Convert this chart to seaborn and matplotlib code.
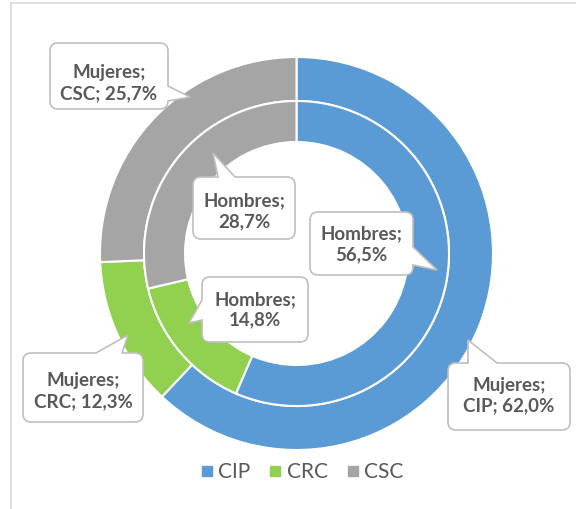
import matplotlib
matplotlib.use('Agg')
import matplotlib.pyplot as plt
import seaborn as sns
from matplotlib.path import Path
from matplotlib.patches import PathPatch
from matplotlib.lines import Line2D

# data
categories = ['CIP', 'CRC', 'CSC']
mujeres = [62.0, 12.3, 25.7]
hombres = [56.5, 14.8, 28.7]
colors = ['#5B9BD5', '#92D050', '#A5A5A5']

W, H = 576, 509
TXT = '#595959'
EDGE = '#BFBFBF'


def pct(v):
    return f'{v:.1f}%'.replace('.', ',')


def bubble(ax, box, side, a, b, tip, r=8):
    """Rounded callout box with a pointer, given in image pixels (y down)."""
    x0, y0, x1, y1 = box
    verts, codes = [], []

    def ln(p, code=Path.LINETO):
        verts.append(p)
        codes.append(code)

    def cv(c, p):
        verts.extend([c, p])
        codes.extend([Path.CURVE3, Path.CURVE3])

    ln((x0 + r, y0), Path.MOVETO)
    if side == 'top':
        ln((a, y0)); ln(tip); ln((b, y0))
    ln((x1 - r, y0)); cv((x1, y0), (x1, y0 + r))
    if side == 'right':
        ln((x1, a)); ln(tip); ln((x1, b))
    ln((x1, y1 - r)); cv((x1, y1), (x1 - r, y1))
    if side == 'bottom':
        ln((a, y1)); ln(tip); ln((b, y1))
    ln((x0 + r, y1)); cv((x0, y1), (x0, y1 - r))
    if side == 'left':
        ln((x0, a)); ln(tip); ln((x0, b))
    ln((x0, y0 + r)); cv((x0, y0), (x0 + r, y0))
    ln((x0 + r, y0), Path.CLOSEPOLY)
    verts = [(x, H - y) for x, y in verts]
    ax.add_patch(PathPatch(Path(verts, codes), facecolor='white',
                           edgecolor=EDGE, lw=1.2, zorder=5))


sns.set_theme(style='white')
plt.rcParams['font.family'] = ['Lato', 'DejaVu Sans']

fig = plt.figure(figsize=(W / 100, H / 100), dpi=100)
ax = fig.add_axes([0, 0, 1, 1])

cx, cy, R = 296.5, H - 253.5, 196.5
ax.pie(mujeres, colors=colors, startangle=90, counterclock=False,
       center=(cx, cy), radius=R,
       wedgeprops=dict(width=44, edgecolor='white', linewidth=1.5))
ax.pie(hombres, colors=colors, startangle=90, counterclock=False,
       center=(cx, cy), radius=152.5,
       wedgeprops=dict(width=41, edgecolor='white', linewidth=1.5))
ax.set_xlim(0, W)
ax.set_ylim(0, H)
ax.set_aspect('auto')
ax.axis('off')

# callouts: (box, side, a, b, tip, text centre)
mj = [f'Mujeres;\n{c}; {pct(v)}' for c, v in zip(categories, mujeres)]
hb = [f'Hombres;\n{pct(v)}' for v in hombres]
callouts = [
    (mj[0], (448, 363, 570, 430), 'top', 468, 497, (468, 340), (509, 396)),
    (mj[1], (23, 353, 143, 422), 'top', 96, 122, (128, 335), (83, 391)),
    (mj[2], (50, 43, 168, 109), 'right', 86, 101, (190, 97), (109, 83)),
    (hb[0], (310, 212, 413, 275), 'right', 247, 265, (437, 270), (361, 244)),
    (hb[1], (202, 277, 308, 342), 'left', 320, 300, (189, 323), (255, 310)),
    (hb[2], (193, 177, 295, 239), 'top', 218, 235, (213, 153), (244, 211)),
]
for text, box, side, a, b, tip, (tx, ty) in callouts:
    bubble(ax, box, side, a, b, tip)
    ax.text(tx, H - ty, text, ha='center', va='center', fontsize=13.5,
            fontweight='bold', color=TXT, linespacing=1.25, zorder=6)

# chart frame
ax.add_line(Line2D([10.5, W], [H - 2.5, H - 2.5], color='#D9D9D9', lw=1.2))
ax.add_line(Line2D([10.5, 10.5], [0, H - 2.5], color='#D9D9D9', lw=1.2))

handles = [Line2D([], [], marker='s', linestyle='none', markersize=7,
                  markerfacecolor=c, markeredgecolor=c) for c in colors]
fig.legend(handles, categories, loc='center', ncol=3, frameon=False,
           bbox_to_anchor=(300 / W, 1 - 472 / H), fontsize=15,
           labelcolor=TXT, handletextpad=0.05, columnspacing=0.7,
           handlelength=1.0)

plt.savefig('out.png', dpi=100)
plt.close()
